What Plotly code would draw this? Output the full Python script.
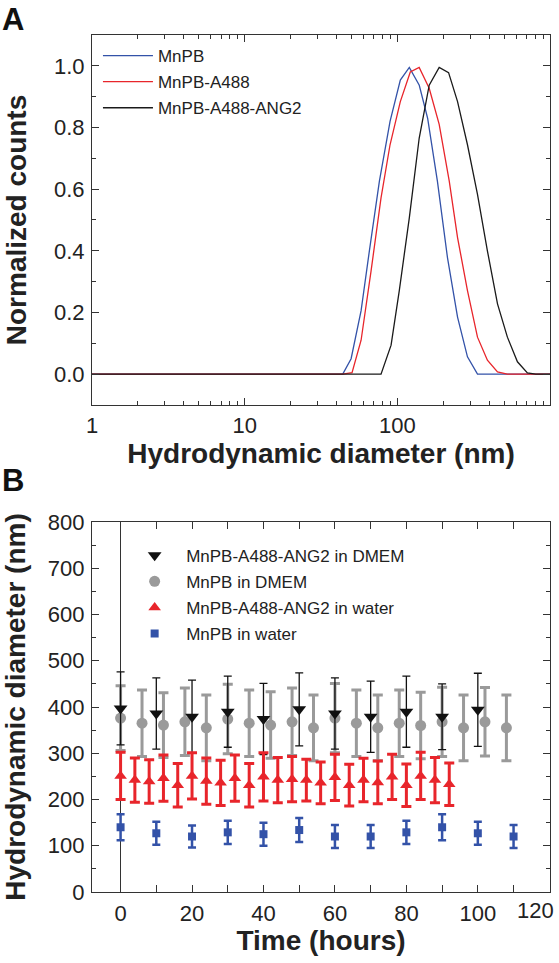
import plotly.graph_objects as go

# ---------------- Panel A data (DLS size distributions) ----------------
mnpb_x = [1, 43.9, 49.8, 57.9, 65.6, 76.3, 89.6, 104.6, 119.8, 139.2, 157.9, 183, 213, 248, 288, 335, 1000]
mnpb_y = [0, 0, 0.05, 0.206, 0.40, 0.626, 0.82, 0.954, 0.995, 0.937, 0.83, 0.626, 0.378, 0.185, 0.056, 0, 0]

a488_x = [1, 43.9, 50.5, 57.9, 67.3, 78.2, 89.6, 104.6, 121.6, 139, 161.7, 188, 218.8, 248, 288, 335, 389, 453, 525, 1000]
a488_y = [0, 0, 0.005, 0.11, 0.335, 0.572, 0.744, 0.884, 0.98, 0.995, 0.927, 0.81, 0.626, 0.443, 0.271, 0.12, 0.045, 0.007, 0, 0]

ang2_x = [1, 78.2, 91, 103, 119.8, 139, 161.7, 188, 216.6, 248, 288, 335, 389, 453, 526, 612, 711, 806, 1000]
ang2_y = [0, 0, 0.094, 0.271, 0.507, 0.765, 0.937, 0.995, 0.978, 0.884, 0.744, 0.583, 0.40, 0.228, 0.12, 0.04, 0.004, 0, 0]

a_xticks = [1, 10, 100]
a_xtick_text = ["1", "10", "100"]
a_xminor = [2, 3, 4, 5, 6, 7, 8, 9, 20, 30, 40, 50, 60, 70, 80, 90, 200, 300, 400, 500, 600, 700, 800, 900]

# ---------------- Panel B data (stability over time) ----------------
dmem_ang2_t = [0, 10, 20, 30, 40, 50, 60, 70, 80, 90, 100]
dmem_ang2_y = [397, 386, 379, 390, 374, 395, 386, 379, 390, 379, 394]
dmem_ang2_e = [79, 77, 79, 77, 77, 79, 77, 77, 77, 71, 79]

dmem_mnpb_t = [0, 6, 12, 18, 24, 30, 36, 42, 48, 54, 60, 66, 72, 78, 84, 90, 96, 102, 108]
dmem_mnpb_y = [376, 365, 361, 368, 355, 374, 365, 361, 368, 355, 376, 365, 355, 365, 360, 368, 355, 368, 355]
dmem_mnpb_e = [70, 72, 70, 73, 71, 75, 72, 72, 73, 71, 75, 72, 71, 72, 72, 75, 71, 74, 71]

water_ang2_t = [0, 4, 8, 12, 16, 20, 24, 28, 32, 36, 40, 44, 48, 52, 56, 60, 64, 68, 72, 76, 80, 84, 88, 92]
water_ang2_y = [251, 242, 239, 246, 231, 251, 240, 236, 246, 231, 249, 242, 244, 242, 236, 248, 231, 242, 237, 249, 231, 251, 242, 233]
water_ang2_e = [51, 48, 47, 50, 47, 50, 50, 49, 50, 47, 52, 49, 49, 45, 45, 50, 45, 47, 46, 49, 46, 51, 49, 46]

water_mnpb_t = [0, 10, 20, 30, 40, 50, 60, 70, 80, 90, 100, 110]
water_mnpb_y = [140, 127, 120, 129, 125, 134, 120, 120, 129, 140, 127, 120]
water_mnpb_e = [28, 25, 24, 25, 25, 26, 25, 25, 25, 28, 25, 25]

b_xticks = [0, 20, 40, 60, 80, 100, 120]
b_last_tick = b_xticks[-1]

FONT = "Liberation Sans, Arial, sans-serif"
AX = "#333333"

fig = go.Figure()

# Panel A traces
fig.add_trace(go.Scatter(x=mnpb_x, y=mnpb_y, mode="lines", name="MnPB",
                         line=dict(color="#3352a8", width=1.3), xaxis="x", yaxis="y",
                         legend="legend", legendgroup="a1"))
fig.add_trace(go.Scatter(x=a488_x, y=a488_y, mode="lines", name="MnPB-A488",
                         line=dict(color="#e8252b", width=1.3), xaxis="x", yaxis="y",
                         legend="legend", legendgroup="a2"))
fig.add_trace(go.Scatter(x=ang2_x, y=ang2_y, mode="lines", name="MnPB-A488-ANG2",
                         line=dict(color="#1a1a1a", width=1.3), xaxis="x", yaxis="y",
                         legend="legend", legendgroup="a3"))

# Panel B traces
fig.add_trace(go.Scatter(x=dmem_mnpb_t, y=dmem_mnpb_y, mode="markers", name="MnPB in DMEM",
                         marker=dict(symbol="circle", size=11, color="#9a9a9a"),
                         error_y=dict(type="data", array=dmem_mnpb_e, color="#9a9a9a", thickness=3, width=5),
                         xaxis="x2", yaxis="y2", legend="legend2", legendgroup="b2", legendrank=2))
fig.add_trace(go.Scatter(x=dmem_ang2_t, y=dmem_ang2_y, mode="markers", name="MnPB-A488-ANG2 in DMEM",
                         marker=dict(symbol="triangle-down", size=12, color="#111111"),
                         error_y=dict(type="data", array=dmem_ang2_e, color="#111111", thickness=1.3, width=4),
                         xaxis="x2", yaxis="y2", legend="legend2", legendgroup="b1", legendrank=1))
fig.add_trace(go.Scatter(x=water_ang2_t, y=water_ang2_y, mode="markers", name="MnPB-A488-ANG2 in water",
                         marker=dict(symbol="triangle-up", size=11, color="#e8252b"),
                         error_y=dict(type="data", array=water_ang2_e, color="#e8252b", thickness=3, width=5),
                         xaxis="x2", yaxis="y2", legend="legend2", legendgroup="b3", legendrank=3))
fig.add_trace(go.Scatter(x=water_mnpb_t, y=water_mnpb_y, mode="markers", name="MnPB in water",
                         marker=dict(symbol="square", size=8, color="#3352a8"),
                         error_y=dict(type="data", array=water_mnpb_e, color="#3352a8", thickness=2.5, width=4),
                         xaxis="x2", yaxis="y2", legend="legend2", legendgroup="b4", legendrank=4))

tickfont = dict(family=FONT, size=22, color="#222222")
titlefont = dict(family=FONT, size=28, color="#222222", weight="bold")

common = dict(showline=True, linecolor=AX, linewidth=1.2, mirror="ticks", ticks="inside",
              ticklen=7, tickwidth=1.1, tickcolor=AX, showgrid=False, tickfont=tickfont)

fig.update_layout(
    width=559, height=963,
    margin=dict(l=92, r=9, t=35, b=71),
    paper_bgcolor="white", plot_bgcolor="white",
    font=dict(family=FONT, color="#222222"),
    xaxis=dict(domain=[0, 1], anchor="y", type="log", range=[0, 3],
               tickmode="array", tickvals=a_xticks, ticktext=a_xtick_text,
               minor=dict(tickmode="array", tickvals=a_xminor, ticks="inside", ticklen=4,
                          tickwidth=1, tickcolor=AX),
               zeroline=False, ticklabelstandoff=1,
               title=dict(text="Hydrodynamic diameter (nm)", font=titlefont, standoff=1),
               **common),
    yaxis=dict(domain=[0.5683, 1], anchor="x", range=[-0.1, 1.1], dtick=0.2, tick0=0,
               tickformat=".1f", zeroline=False, ticklabelstandoff=2,
               minor=dict(dtick=0.1, ticks="inside", ticklen=4, tickwidth=1, tickcolor=AX),
               title=dict(text="Normalized counts", font=titlefont, standoff=19),
               **common),
    xaxis2=dict(domain=[0, 1], anchor="y2", range=[-8, 120.2], tickmode="array",
                tickvals=b_xticks, zeroline=True, zerolinecolor=AX, zerolinewidth=1.2,
                ticklabelstandoff=1,
                minor=dict(dtick=10, ticks="inside", ticklen=7, tickwidth=1, tickcolor=AX),
                title=dict(text="Time (hours)", font=titlefont, standoff=3),
                **common),
    yaxis2=dict(domain=[0, 0.4317], anchor="x2", range=[0, 800], dtick=100, tick0=0,
                zeroline=False, ticklabelstandoff=2,
                minor=dict(dtick=50, ticks="inside", ticklen=4, tickwidth=1, tickcolor=AX),
                title=dict(text="Hydrodynamic diameter (nm)", font=titlefont, standoff=15),
                **common),
    legend=dict(x=0.013, y=0.9965, xanchor="left", yanchor="top", bgcolor="rgba(0,0,0,0)",
                font=dict(family=FONT, size=17, color="#222222"), tracegroupgap=1,
                itemwidth=50),
    legend2=dict(x=0.068, y=0.4135, xanchor="left", yanchor="top", bgcolor="rgba(0,0,0,0)",
                 font=dict(family=FONT, size=17, color="#222222"), tracegroupgap=1,
                 itemwidth=53),
    annotations=[
        dict(text="<b>A</b>", xref="paper", yref="paper", x=-0.2, y=1.0405, xanchor="left",
             yanchor="top", showarrow=False, font=dict(family=FONT, size=31, color="#111111")),
        dict(text="<b>B</b>", xref="paper", yref="paper", x=-0.2, y=0.4796, xanchor="left",
             yanchor="middle", showarrow=False, font=dict(family=FONT, size=31, color="#111111")),
        # the last tick label sits at the right edge of the figure; keep it inside the page
        dict(text=str(b_last_tick), xref="paper", yref="paper", x=1.0135, y=-0.0215,
             xanchor="right", yanchor="middle", showarrow=False, font=tickfont),
    ],
)

post = "document.body.style.margin='0';"
fig.write_html("out.html", config={"displayModeBar": False}, post_script=post)
